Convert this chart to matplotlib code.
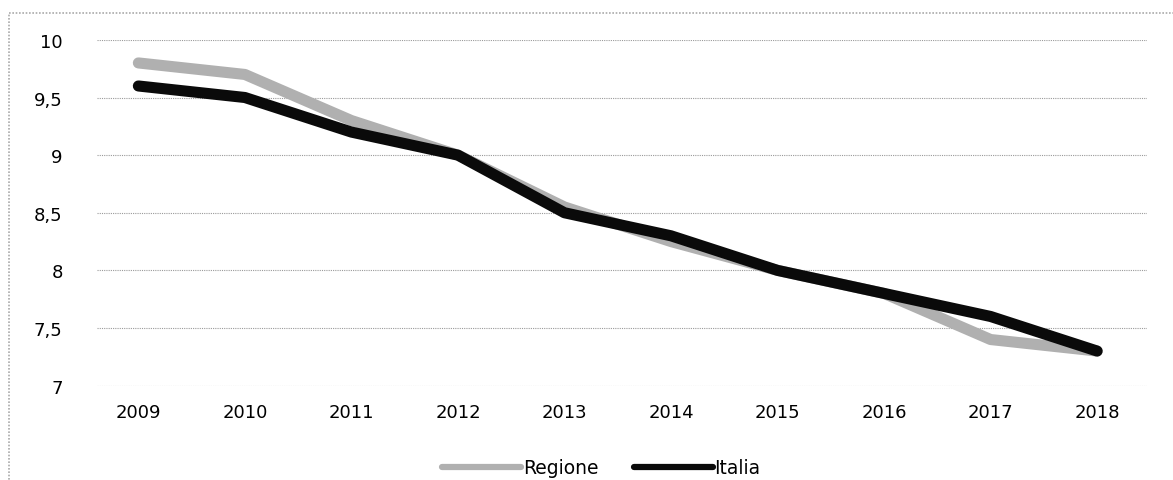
import numpy as np
import matplotlib.pyplot as plt
from matplotlib.patches import Rectangle

anni = ["2009", "2010", "2011", "2012", "2013", "2014", "2015", "2016", "2017", "2018"]
regione = [9.8, 9.7, 9.3, 9.0, 8.55, 8.25, 8.0, 7.8, 7.4, 7.3]
italia = [9.6, 9.5, 9.2, 9.0, 8.5, 8.3, 8.0, 7.8, 7.6, 7.3]
y_ticks = [7, 7.5, 8, 8.5, 9, 9.5, 10]

plt.rcParams['font.family'] = ['DejaVu Sans']

fig = plt.figure(figsize=(11.73, 4.81), dpi=100)
ax = fig.add_axes([0.083, 0.195, 0.895, 0.72])

x = np.arange(len(anni))
ax.plot(x, regione, color='#b0b0b0', lw=8, solid_capstyle='round',
        solid_joinstyle='round', label='Regione', zorder=3)
ax.plot(x, italia, color='#0a0a0a', lw=8, solid_capstyle='round',
        solid_joinstyle='round', label='Italia', zorder=4)

ax.set_xlim(-0.385, 9.47)
ax.set_ylim(6.995, 10)
ax.set_xticks(x)
ax.set_xticklabels(anni, fontsize=13)
ax.set_yticks(y_ticks)
ax.set_yticklabels([f"{v:g}".replace('.', ',') for v in y_ticks], fontsize=13)
ax.tick_params(axis='y', length=0, pad=25)
ax.tick_params(axis='x', length=0, pad=12)

ax.grid(axis='y', color='#9a9a9a', lw=0.8, ls=(0, (1, 1)))
ax.set_axisbelow(True)
for s in ax.spines.values():
    s.set_visible(False)

leg = ax.legend(loc='upper center', bbox_to_anchor=(0.48, -0.16), ncol=2,
                frameon=False, fontsize=13.5, handlelength=4.2,
                handletextpad=0.1, columnspacing=1.9)
for h in leg.get_lines():
    h.set_linewidth(4.5)

# thin frame around the chart area
fig.patches.append(Rectangle((0.008, -0.01), 1.0, 0.98, transform=fig.transFigure,
                             fill=False, edgecolor='#aaaaaa', lw=1.2, ls=(0, (1, 1))))

fig.savefig('out.png', dpi=100)
